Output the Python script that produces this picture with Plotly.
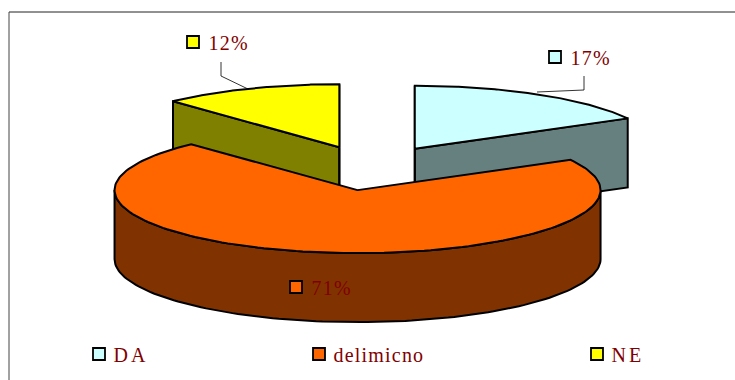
import numpy as np
import plotly.graph_objects as go

categories = ["DA", "delimicno", "NE"]
percent = [17, 71, 12]
top_colors = ["#CCFFFF", "#FF6600", "#FFFF00"]
side_colors = ["#668080", "#803300", "#808000"]

W, H = 735, 380
CX, CY = 371, 168
RX, RY = 243, 63
DEPTH = 69
EXPL_X, EXPL_Y = 86, 22.4
INK = "#800000"
FONT = "Liberation Serif"


def pt(a, ox, oy, dz=0):
    return ox + RX * np.sin(a), oy - RY * np.cos(a) + dz


total = sum(percent)
edges = np.cumsum([0] + percent) / total * 2 * np.pi
wedges = []
for i, c in enumerate(categories):
    a0, a1 = edges[i], edges[i + 1]
    mid = (a0 + a1) / 2
    ox = CX + EXPL_X * np.sin(mid)
    oy = CY - EXPL_Y * np.cos(mid)
    wedges.append((a0, a1, ox, oy))

fig = go.Figure()


def poly(xs, ys, color, lw=2):
    fig.add_trace(go.Scatter(x=list(xs), y=list(ys), mode="lines", fill="toself",
                             fillcolor=color, line=dict(color="black", width=lw),
                             hoverinfo="skip", showlegend=False))


def face(a, ox, oy, color):
    x1, y1 = pt(a, ox, oy)
    poly([ox, x1, x1, ox, ox], [oy, y1, y1 + DEPTH, oy + DEPTH, oy], color)


def wall(a0, a1, ox, oy, color):
    # outer wall: only the part on the front half of the ellipse is visible
    lo, hi = max(a0, np.pi / 2), min(a1, 3 * np.pi / 2)
    if hi <= lo:
        return
    t = np.linspace(lo, hi, 120)
    x, y = pt(t, ox, oy)
    poly(np.r_[x, x[::-1], x[0]], np.r_[y, y[::-1] + DEPTH, y[0]], color)


def top(a0, a1, ox, oy, color):
    t = np.linspace(a0, a1, 160)
    x, y = pt(t, ox, oy)
    poly(np.r_[ox, x, ox], np.r_[oy, y, oy], color)


# back slices first, front slice last
for i in [2, 0, 1]:
    a0, a1, ox, oy = wedges[i]
    if i == 0:
        face(a1, ox, oy, side_colors[i])
        face(a0, ox, oy, side_colors[i])
    elif i == 2:
        face(a0, ox, oy, side_colors[i])
        face(a1, ox, oy, side_colors[i])
    wall(a0, a1, ox, oy, side_colors[i])
    top(a0, a1, ox, oy, top_colors[i])

# leader lines
fig.add_trace(go.Scatter(x=[537, 584, 584], y=[92, 90, 76], mode="lines",
                         line=dict(color="black", width=0.8), hoverinfo="skip", showlegend=False))
fig.add_trace(go.Scatter(x=[248, 221, 221], y=[89, 76, 62], mode="lines",
                         line=dict(color="black", width=0.8), hoverinfo="skip", showlegend=False))

# data labels (key + value)
label_pos = [(555, 57), (296, 287), (193, 42)]
fig.add_trace(go.Scatter(x=[p[0] for p in label_pos], y=[p[1] for p in label_pos], mode="markers",
                         marker=dict(symbol="square", size=12, color=top_colors,
                                     line=dict(color="black", width=1.8)),
                         hoverinfo="skip", showlegend=False))
for (x, y), v in zip(label_pos, percent):
    fig.add_annotation(x=x + 15, y=y + 1, text=f"{v}%", showarrow=False, xanchor="left",
                       font=dict(family=FONT, size=20, color=INK))

# legend
legend_pos = [(99, 354), (319, 354), (597, 354)]
fig.add_trace(go.Scatter(x=[p[0] for p in legend_pos], y=[p[1] for p in legend_pos], mode="markers",
                         marker=dict(symbol="square", size=12, color=top_colors,
                                     line=dict(color="black", width=1.8)),
                         hoverinfo="skip", showlegend=False))
for (x, y), c in zip(legend_pos, categories):
    fig.add_annotation(x=x + 14, y=y + 1, text=c, showarrow=False, xanchor="left",
                       font=dict(family=FONT, size=20, color=INK))

# chart frame, cut by the page edges
fig.add_shape(type="line", x0=9, y0=12, x1=W, y1=12, line=dict(color="#222222", width=1))
fig.add_shape(type="line", x0=9, y0=12, x1=9, y1=H, line=dict(color="#444444", width=1))

fig.update_layout(width=W, height=H, margin=dict(l=0, r=0, t=0, b=0),
                  paper_bgcolor="white", plot_bgcolor="white", showlegend=False,
                  xaxis=dict(range=[0, W], visible=False, fixedrange=True),
                  yaxis=dict(range=[H, 0], visible=False, fixedrange=True))
post = """
document.documentElement.style.overflow='hidden';
document.body.style.margin='0';
document.querySelectorAll('.annotation-text').forEach(function(t){
  var s = t.textContent.length <= 2 ? 3 : (t.textContent.length > 4 ? 1.2 : 1.3);
  t.style.letterSpacing = s + 'px';
  t.setAttribute('text-anchor','start');
  var b = t.closest('.annotation-text-g').querySelector('rect');
  t.setAttribute('x', b ? parseFloat(b.getAttribute('x')||0) : 0);
});
"""
fig.write_html("out.html", config={"displayModeBar": False}, post_script=post)
